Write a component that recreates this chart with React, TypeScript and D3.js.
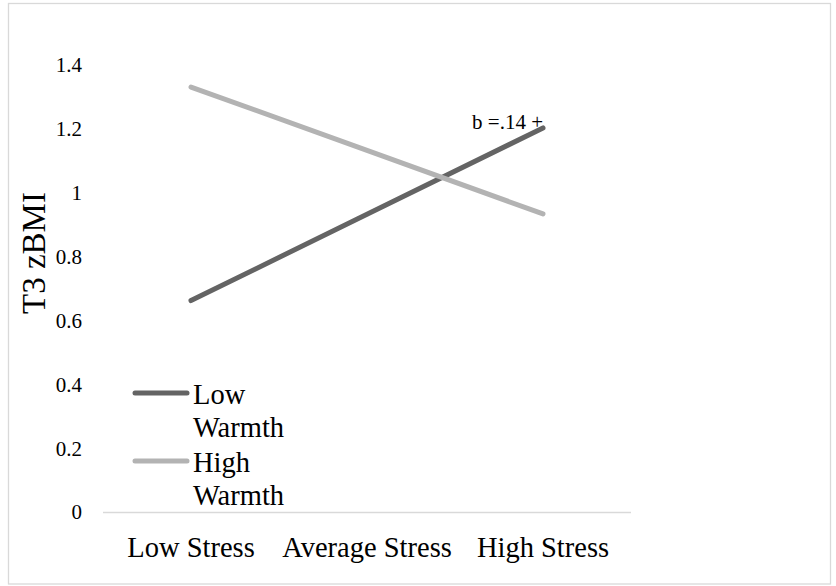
import React from "react";
import * as d3 from "d3";

const categories = ["Low Stress", "Average Stress", "High Stress"];
const lowWarmth = [0.663, 0.933, 1.203];
const highWarmth = [1.331, 1.133, 0.934];
const yTicks = [0, 0.2, 0.4, 0.6, 0.8, 1, 1.2, 1.4];
const seriesNames = [["Low", "Warmth"], ["High", "Warmth"]];
const annotation = "b =.14 +";

const W = 836;
const H = 586;
const FONT = '"Liberation Serif", Tinos, "Times New Roman", Times, "DejaVu Serif", serif';

export default function App() {
  const x = d3.scaleBand<string>().domain(categories).range([103, 631]);
  const y = d3.scaleLinear().domain([0, 1.4]).range([512.5, 65]);
  const line = d3
    .line<number>()
    .x((_, i) => (x(categories[i]) as number) + x.bandwidth() / 2)
    .y((d) => y(d));
  const series = [
    { values: lowWarmth, color: "#646464", name: seriesNames[0] },
    { values: highWarmth, color: "#b3b3b3", name: seriesNames[1] },
  ];
  const lastX = (x(categories[2]) as number) + x.bandwidth() / 2;
  return (
    <svg
      width={W}
      height={H}
      style={{ position: "absolute", left: 0, top: 0, background: "#fff", fontFamily: FONT }}
    >
      <rect x={8.5} y={3.5} width={822} height={580.5} fill="#fff" stroke="#d9d9d9" strokeWidth={1.3} />
      {yTicks.map((t) => (
        <text key={t} x={82} y={y(t)} dy="0.33em" textAnchor="end" fontSize={21} fill="#000">
          {d3.format("~g")(t)}
        </text>
      ))}
      <line x1={103} x2={631} y1={512.5} y2={512.5} stroke="#d9d9d9" strokeWidth={1.5} />
      {categories.map((c) => (
        <text
          key={c}
          x={(x(c) as number) + x.bandwidth() / 2}
          y={557}
          textAnchor="middle"
          fontSize={28.5}
          fill="#000"
        >
          {c}
        </text>
      ))}
      <text
        transform={`translate(45,253) rotate(-90)`}
        textAnchor="middle"
        fontSize={33}
        fill="#000"
      >
        T3 zBMI
      </text>
      {series.map((s) => (
        <path
          key={s.color}
          d={line(s.values) as string}
          fill="none"
          stroke={s.color}
          strokeWidth={5}
          strokeLinecap="round"
        />
      ))}
      <text x={lastX} y={y(lowWarmth[2]) + 1} textAnchor="end" fontSize={21} fill="#000">
        {annotation}
      </text>
      {series.map((s, i) => {
        const ly = 393 + i * 68;
        return (
          <g key={"leg" + i}>
            <line x1={135} x2={187} y1={ly} y2={ly} stroke={s.color} strokeWidth={5} strokeLinecap="round" />
            <text x={193} y={ly + 11} fontSize={28.5} fill="#000">
              {s.name[0]}
            </text>
            <text x={193} y={ly + 44} fontSize={28.5} fill="#000">
              {s.name[1]}
            </text>
          </g>
        );
      })}
    </svg>
  );
}
